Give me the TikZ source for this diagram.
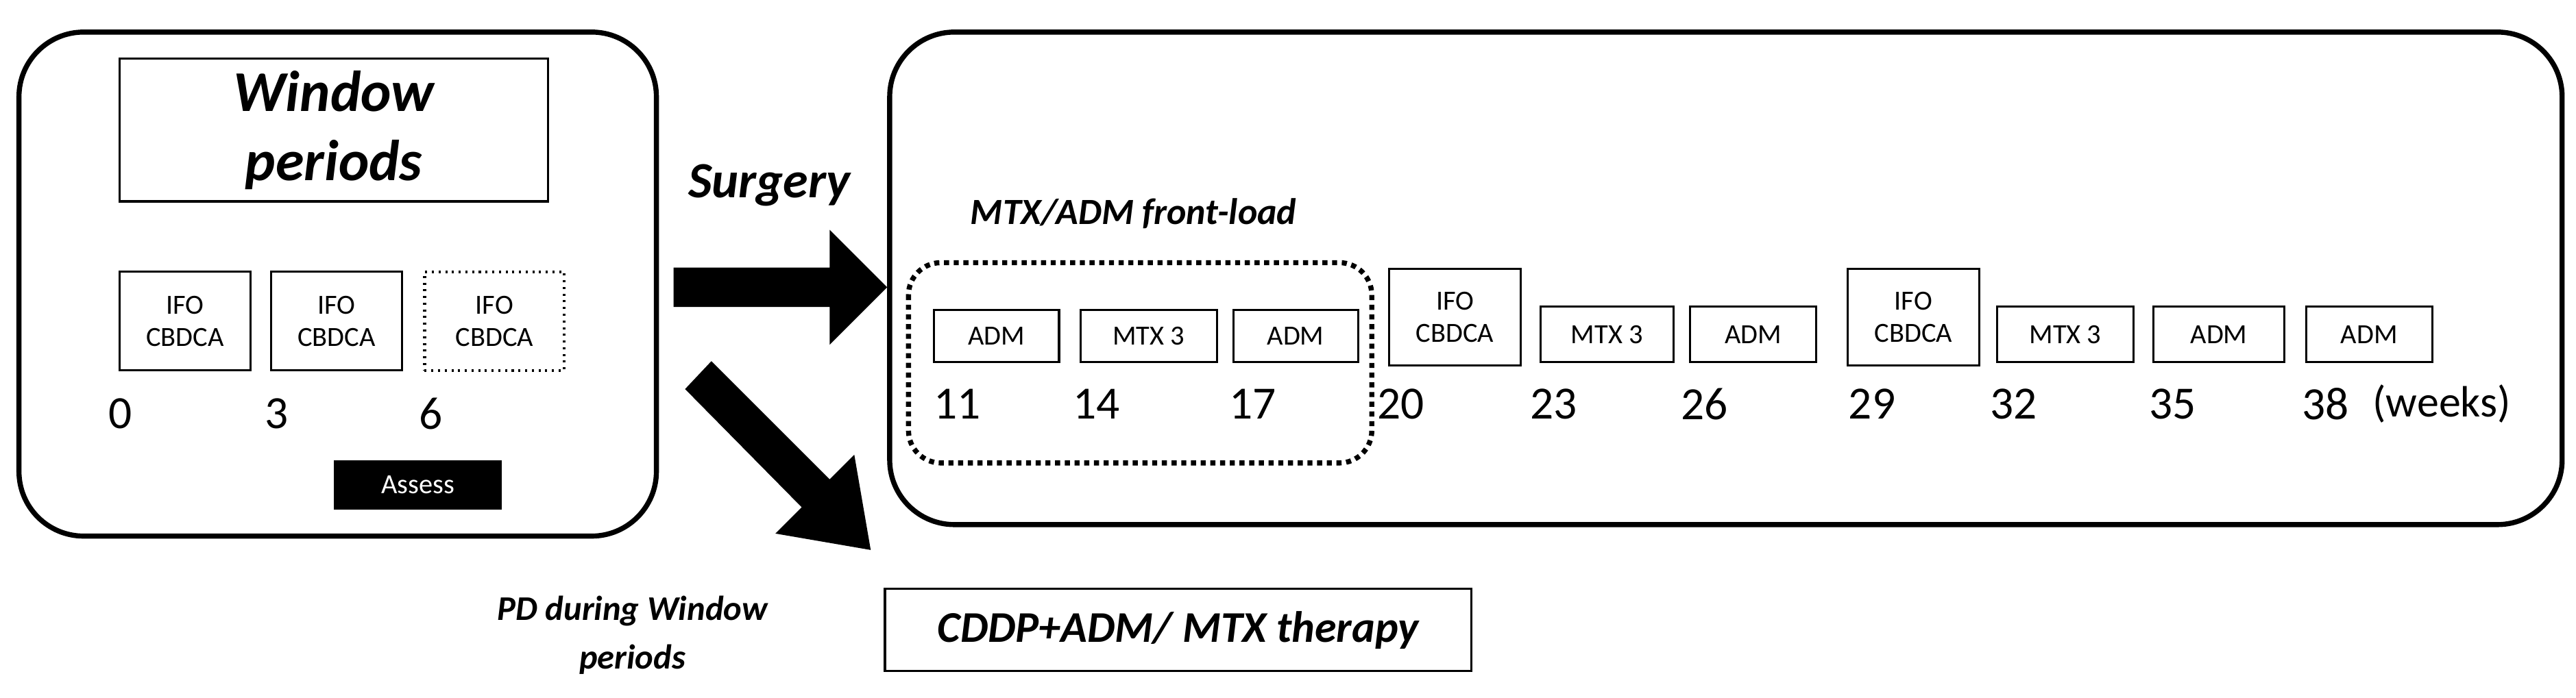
\documentclass[tikz,border=0pt]{standalone}
\usepackage{fontspec}
\setmainfont{Carlito}
\usetikzlibrary{positioning}
\begin{document}
\begin{tikzpicture}[x=0.025cm, y=-0.025cm]
    % styles
    \tikzstyle{frame}=[draw, line width=2.2pt, rounded corners=28pt]
    \tikzstyle{drug}=[draw, line width=0.9pt, font=\fontsize{12}{14}\selectfont, align=center, inner sep=0]
    \tikzstyle{week}=[font=\fontsize{20}{22}\selectfont, anchor=west, inner sep=0]
    \tikzstyle{title}=[font=\bfseries\itshape\fontsize{22}{26}\selectfont, align=center]
    \useasboundingbox (0,0) rectangle (1568,425);
    % left frame: window periods
    \node[frame, minimum width=388*0.025cm, minimum height=307*0.025cm, anchor=north west] (left) at (10,18) {};
    \node[draw, line width=1pt, minimum width=261*0.025cm, minimum height=87*0.025cm, anchor=north west, title, font=\bfseries\itshape\fontsize{25}{30}\selectfont] (win) at (72,35) {Window\\periods};
    \node[drug, minimum width=80*0.025cm, minimum height=60*0.025cm, anchor=north west] (w0) at (72,165) {IFO\\CBDCA};
    \node[drug, minimum width=80*0.025cm, minimum height=60*0.025cm, right=11*0.025cm of w0] (w3) {IFO\\CBDCA};
    \node[drug, dotted, line width=1.3pt, minimum width=85*0.025cm, minimum height=60*0.025cm, right=12*0.025cm of w3] (w6) {IFO\\CBDCA};
    \node[week] (n0) at (66,252) {0};
    \node[week] (n3) at (161,252) {3};
    \node[week] (n6) at (255,252) {6};
    \node[fill=black, text=white, minimum width=102*0.025cm, minimum height=30*0.025cm, font=\fontsize{12}{14}\selectfont, anchor=north west] (assess) at (203,280) {Assess};
    % arrows
    \node[title, anchor=west] (surg) at (414,113) {Surgery};
    \fill (410,163) -- (505,163) -- (505,140) -- (540,175) -- (505,210) -- (505,187) -- (410,187) -- cycle;
    \fill (417,237) -- (433,220) -- (505,292) -- (520,277) -- (530,335) -- (472,325) -- (488,309) -- cycle;
    % right frame: post surgery
    \node[frame, minimum width=1018*0.025cm, minimum height=300*0.025cm, anchor=north west] (right) at (540,18) {};
    \node[font=\bfseries\itshape\fontsize{16}{18}\selectfont] (front) at (690,130) {MTX/ADM front-load};
    \draw[dotted, line width=2.2pt, rounded corners=14pt] (553,160) rectangle (835,282);
    \node[drug, minimum width=76*0.025cm, minimum height=32*0.025cm, anchor=north west] (d11) at (568,188) {ADM};
    \node[drug, minimum width=83*0.025cm, minimum height=32*0.025cm, anchor=north west] (d14) at (657,188) {MTX 3};
    \node[drug, minimum width=76*0.025cm, minimum height=32*0.025cm, anchor=north west] (d17) at (750,188) {ADM};
    \node[drug, minimum width=80*0.025cm, minimum height=59*0.025cm, anchor=north west] (d20) at (845,163) {IFO\\CBDCA};
    \node[drug, minimum width=81*0.025cm, minimum height=34*0.025cm, anchor=north west] (d23) at (937,186) {MTX 3};
    \node[drug, minimum width=77*0.025cm, minimum height=34*0.025cm, anchor=north west] (d26) at (1028,186) {ADM};
    \node[drug, minimum width=80*0.025cm, minimum height=59*0.025cm, anchor=north west] (d29) at (1124,163) {IFO\\CBDCA};
    \node[drug, minimum width=83*0.025cm, minimum height=34*0.025cm, anchor=north west] (d32) at (1215,186) {MTX 3};
    \node[drug, minimum width=80*0.025cm, minimum height=34*0.025cm, anchor=north west] (d35) at (1310,186) {ADM};
    \node[drug, minimum width=77*0.025cm, minimum height=34*0.025cm, anchor=north west] (d38) at (1403,186) {ADM};
    \foreach \w/\x in {11/568, 14/653, 17/748, 20/838, 23/931, 26/1023, 29/1125, 32/1211, 35/1308, 38/1401}
        \node[week] (n\w) at (\x,246) {\w};
    \node[week, font=\fontsize{19}{21}\selectfont] (unit) at (1444,246) {(weeks)};
    % progressive disease branch
    \node[font=\bfseries\itshape\fontsize{15}{21}\selectfont, align=center] (pd) at (385,387) {PD during Window\\periods};
    \node[draw, line width=1pt, minimum width=357*0.025cm, minimum height=50*0.025cm, anchor=north west, font=\bfseries\itshape\fontsize{19}{22}\selectfont] (cddp) at (538,358) {CDDP+ADM/ MTX therapy};
\end{tikzpicture}
\end{document}
